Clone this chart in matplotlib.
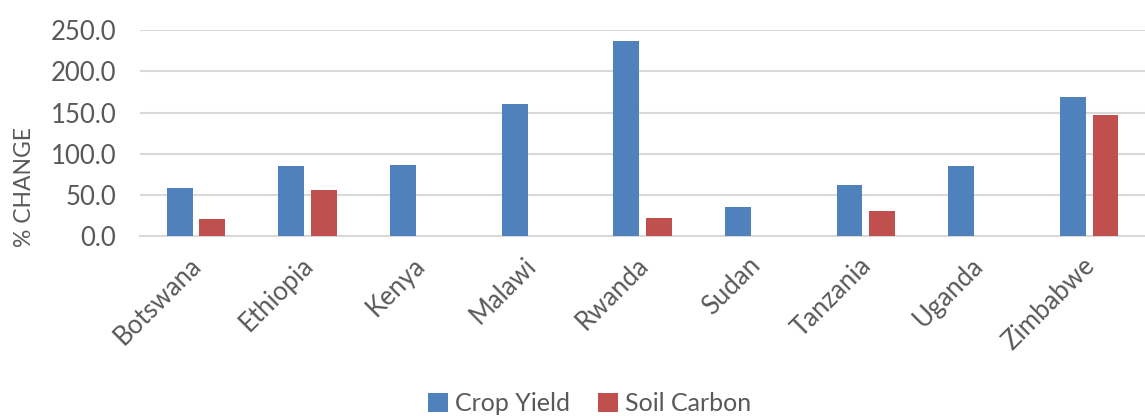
import numpy as np
import matplotlib
matplotlib.use("Agg")
import matplotlib.pyplot as plt
from matplotlib.transforms import ScaledTranslation

plt.rcParams['font.family'] = ['Lato', 'DejaVu Sans']

# % change per country
countries = ['Botswana', 'Ethiopia', 'Kenya', 'Malawi', 'Rwanda',
             'Sudan', 'Tanzania', 'Uganda', 'Zimbabwe']
crop_yield = [58.0, 85.0, 86.2, 161.0, 236.7, 35.2, 62.3, 84.6, 169.5]
soil_carbon = [20.2, 55.4, 0, 0, 21.8, 0, 30.7, 0, 146.8]

blue = '#4F81BD'
red = '#C0504D'
grey_txt = '#595959'
grid_col = '#D9D9D9'

fig = plt.figure(figsize=(11.45, 4.16), dpi=100)
ax = fig.add_axes([0.1223, 0.4327, 0.8777, 0.4945])

x = np.arange(len(countries))
w = 0.23
off = 0.145
ax.bar(x - off, crop_yield, w, color=blue, label='Crop Yield', zorder=3)
ax.bar(x + off, soil_carbon, w, color=red, label='Soil Carbon', zorder=3)

ax.set_xlim(-0.5, len(countries) - 0.5)
ax.set_ylim(0, 250)
ax.set_yticks(np.arange(0, 251, 50))
ax.set_yticklabels([f'{v:.1f}' for v in np.arange(0, 251, 50)])
ax.yaxis.grid(True, color=grid_col, linewidth=1.5, zorder=0)
ax.set_axisbelow(True)

for s in ['top', 'right', 'left']:
    ax.spines[s].set_visible(False)
ax.spines['bottom'].set_color(grid_col)
ax.spines['bottom'].set_linewidth(1.5)

ax.tick_params(axis='y', length=0, pad=17, labelsize=18.5, labelcolor=grey_txt)
ax.tick_params(axis='x', length=0, pad=12, labelsize=18.5, labelcolor=grey_txt)
ax.set_xticks(x)
ax.set_xticklabels(countries, rotation=45, ha='right', rotation_mode='anchor')
# nudge the slanted labels a little to the left
shift = ScaledTranslation(-5 / 72, 0, fig.dpi_scale_trans)
for lbl in ax.get_xticklabels():
    lbl.set_transform(lbl.get_transform() + shift)

# axis title sits a bit below the plot's vertical centre
ax.set_ylabel('% CHANGE', fontsize=16.5, color=grey_txt)
ax.yaxis.set_label_coords(-0.105, 0.24)

fig.legend(loc='center', bbox_to_anchor=(0.515, 0.03), ncol=2, frameon=False,
           fontsize=18, labelcolor=grey_txt, handlelength=0.8, handleheight=0.8,
           handletextpad=0.3, columnspacing=1.1)

fig.savefig('out.png', dpi=100)
